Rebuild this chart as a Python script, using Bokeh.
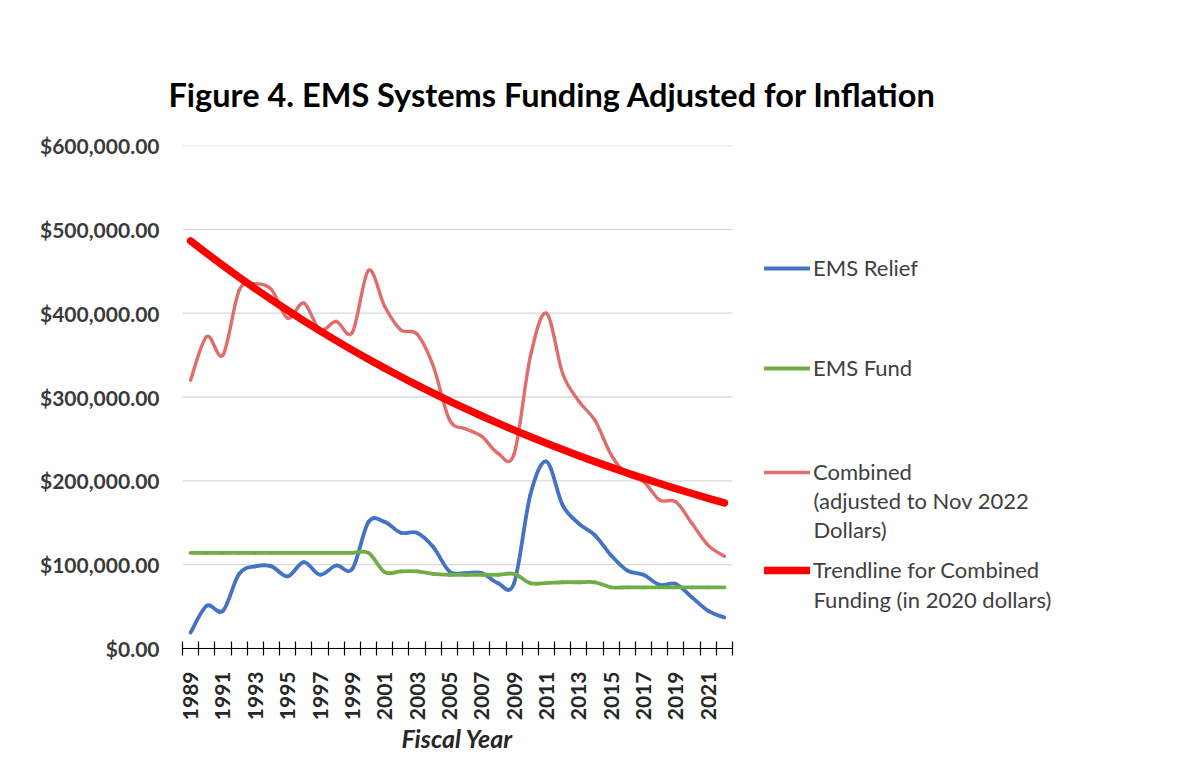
import numpy as np
from bokeh.plotting import figure
from bokeh.models import Legend, LegendItem, Label, FixedTicker, NumeralTickFormatter, Range1d, Title
from bokeh.embed import file_html
from bokeh.resources import INLINE

years = list(range(1989, 2023))
ems_relief = [19000, 51000, 45000, 89000, 98000, 98000, 86000, 103000, 88000, 99000,
              95000, 151000, 151000, 138000, 138000, 121000, 92000, 90000, 90000, 78000,
              78000, 183000, 223000, 171000, 149000, 135000, 111000, 93000, 88000, 76000,
              77000, 61000, 45000, 37000]
ems_fund = [114000, 114000, 114000, 114000, 114000, 114000, 114000, 114000, 114000, 114000,
            114000, 114000, 91000, 92000, 92000, 89000, 88000, 88000, 88000, 88000,
            89000, 78000, 78000, 79000, 79000, 79000, 73000, 73000, 73000, 73000,
            73000, 73000, 73000, 73000]
combined = [320000, 372000, 350000, 427000, 435000, 428000, 394000, 412000, 380000, 390000,
            377000, 451000, 408000, 380000, 375000, 337000, 273000, 262000, 253000, 233000,
            232000, 348000, 400000, 328000, 295000, 272000, 231000, 207000, 199000, 177000,
            175000, 149000, 123000, 110000]
y_ticks = [0, 100000, 200000, 300000, 400000, 500000, 600000]
x_tick_years = list(range(1989, 2022, 2))

FONT = "Lato"

# layout (pixels)
W, H = 1163, 759
LEFT, TOP, BOTTOM_Y, RIGHT_PAD = 182, 145, 648, 3
PLOT_W = 550  # width of the chart area proper

def bezier_cols(xs, ys):
    xs = np.asarray(xs, float)
    ys = np.asarray(ys, float)
    n = len(xs)
    xp = np.concatenate([[xs[0]], xs, [xs[-1]]])
    yp = np.concatenate([[ys[0]], ys, [ys[-1]]])
    return dict(
        x0=xs[:-1], y0=ys[:-1], x1=xs[1:], y1=ys[1:],
        cx0=xs[:-1] + (xp[2:n + 1] - xp[0:n - 1]) / 6.0,
        cy0=ys[:-1] + (yp[2:n + 1] - yp[0:n - 1]) / 6.0,
        cx1=xs[1:] - (xp[3:n + 2] - xp[1:n]) / 6.0,
        cy1=ys[1:] - (yp[3:n + 2] - yp[1:n]) / 6.0,
    )

x_lo = years[0] - 0.5
x_hi = years[-1] + 0.5
frame_w = W - RIGHT_PAD - LEFT
x_end = x_lo + (x_hi - x_lo) * frame_w / PLOT_W

p = figure(width=W, height=H, output_backend="svg", toolbar_location=None,
           x_range=Range1d(x_lo, x_end), y_range=Range1d(0, 600000),
           min_border_left=LEFT, min_border_right=RIGHT_PAD, min_border_top=TOP,
           min_border_bottom=H - BOTTOM_Y)
p.outline_line_color = None
p.background_fill_color = "white"

p.title.text = "Figure 4. EMS Systems Funding Adjusted for Inflation"
p.title.text_font = FONT
p.title.text_font_size = "32.5px"
p.title.text_font_style = "bold"
p.title.text_color = "#000000"
p.title.align = "left"
p.title.offset = -14
p.title.standoff = 63

# axes
p.yaxis.ticker = FixedTicker(ticks=y_ticks)
p.yaxis.formatter = NumeralTickFormatter(format="$0,0.00")
p.yaxis.axis_line_color = None
p.yaxis.major_tick_line_color = None
p.yaxis.minor_tick_line_color = None
p.yaxis.major_tick_out = 0
p.yaxis.major_tick_in = 0
p.yaxis.major_label_standoff = 23
p.yaxis.major_label_text_font = FONT
p.yaxis.major_label_text_font_size = "21px"
p.yaxis.major_label_text_font_style = "bold"
p.yaxis.major_label_text_color = "#3a3a3a"

minor = [y - 0.5 for y in years] + [x_hi]
p.xaxis.bounds = (x_lo, x_hi)
p.xaxis.ticker = FixedTicker(ticks=x_tick_years, minor_ticks=minor)
p.xaxis.major_tick_line_color = None
p.xaxis.major_tick_out = 0
p.xaxis.major_tick_in = 0
p.xaxis.minor_tick_in = 7
p.xaxis.minor_tick_out = 7
p.xaxis.minor_tick_line_color = "#000000"
p.xaxis.minor_tick_line_width = 1.2
p.xaxis.axis_line_color = "#000000"
p.xaxis.axis_line_width = 1.2
p.xaxis.major_label_orientation = np.pi / 2
p.xaxis.major_label_standoff = 16
p.xaxis.major_label_text_font = FONT
p.xaxis.major_label_text_font_size = "21px"
p.xaxis.major_label_text_font_style = "bold"
p.xaxis.major_label_text_color = "#262626"

# x axis title, centred under the chart area
xlab = Title(text="Fiscal Year", align="left", offset=219, standoff=-5,
             text_font=FONT, text_font_size="25px", text_font_style="bold italic",
             text_color="#262626")
p.add_layout(xlab, "below")

p.xgrid.visible = False
p.ygrid.visible = False
# horizontal gridlines limited to the chart area
p.segment(x0=[x_lo] * len(y_ticks), x1=[x_hi] * len(y_ticks), y0=y_ticks, y1=y_ticks,
          line_color="#D9D9D9", line_width=1.3)

# series
r_relief = p.bezier(source=bezier_cols(years, ems_relief), x0="x0", y0="y0", x1="x1", y1="y1",
                    cx0="cx0", cy0="cy0", cx1="cx1", cy1="cy1",
                    line_color="#4472C4", line_width=3.8, line_cap="round")
r_fund = p.bezier(source=bezier_cols(years, ems_fund), x0="x0", y0="y0", x1="x1", y1="y1",
                  cx0="cx0", cy0="cy0", cx1="cx1", cy1="cy1",
                  line_color="#70AD47", line_width=3.8, line_cap="round")
r_comb = p.bezier(source=bezier_cols(years, combined), x0="x0", y0="y0", x1="x1", y1="y1",
                  cx0="cx0", cy0="cy0", cx1="cx1", cy1="cy1",
                  line_color="#E06C6C", line_width=3.4, line_cap="round")

xs = np.array(years, float) - years[0]
b, a = np.polyfit(xs, np.log(np.array(combined, float)), 1)
trend = np.exp(a + b * xs)
r_trend = p.line(years, trend, line_color="#FF0000", line_width=7.5, line_cap="round", line_join="round")

LEG_X = 764 - LEFT
LBL_X = LEG_X + 46 + 3
LEG_FS = "22px"

def add_leg(label, r, cy):
    lg = Legend(items=[LegendItem(label=label, renderers=[r])], location=(LEG_X, BOTTOM_Y - cy - 13),
                orientation="vertical", padding=0, margin=0, spacing=0,
                border_line_color=None, background_fill_alpha=0,
                glyph_width=46, glyph_height=24, label_height=24, label_standoff=3,
                label_text_font=FONT, label_text_font_size=LEG_FS, label_text_color="#404040")
    p.add_layout(lg)

add_leg("EMS Relief", r_relief, 268)
add_leg("EMS Fund", r_fund, 368)
add_leg("Combined", r_comb, 472)
add_leg("Trendline for Combined", r_trend, 570)

for txt, cy in [("(adjusted to Nov 2022", 500), ("Dollars)", 529), ("Funding (in 2020 dollars)", 599)]:
    p.add_layout(Label(x=LBL_X, y=BOTTOM_Y - cy, x_units="screen", y_units="screen", text=txt,
                       text_baseline="middle", text_align="left", text_font=FONT,
                       text_font_size=LEG_FS, text_color="#404040"))

open("out.html", "w").write(file_html(p, INLINE))
